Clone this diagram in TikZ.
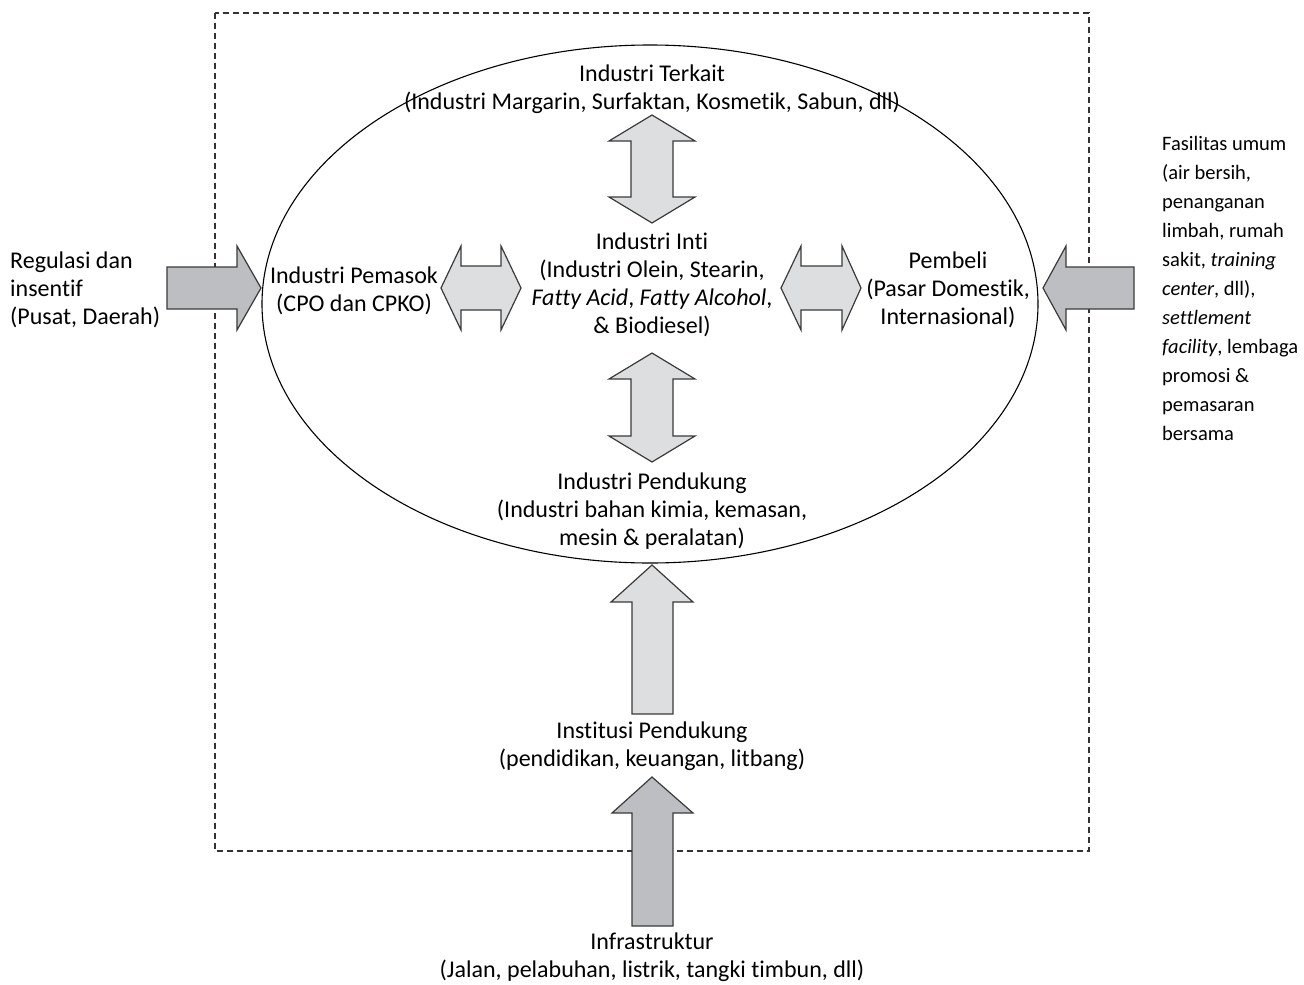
\documentclass[tikz,border=0pt]{standalone}
\usepackage{fontspec}
\setmainfont{Carlito}[Ligatures=CommonOff]
\definecolor{lightar}{HTML}{DDDEE0}
\definecolor{darkar}{HTML}{BDBEC1}
\definecolor{arline}{HTML}{3A3A3A}
\begin{document}
\begin{tikzpicture}[x=1pt,y=-1pt,
  txt/.style={inner sep=0pt,align=center,font=\fontsize{24}{28}\selectfont},
  ltxt/.style={inner sep=0pt,align=left,font=\fontsize{24}{28}\selectfont},
  rtxt/.style={inner sep=0pt,align=left,font=\fontsize{20.5}{29}\selectfont},
  lightarrow/.style={fill=lightar,draw=arline,line width=1.2pt,line join=miter},
  darkarrow/.style={fill=darkar,draw=arline,line width=1.2pt,line join=miter},
  frame/.style={draw=black!80,line width=1.2pt,dash pattern=on 6pt off 4pt}]
\useasboundingbox (0,0) rectangle (1304,985);
% dashed frame
\draw[frame] (215,13) rectangle (1089,851);
% ellipse
\draw[line width=1.1pt] (650,304) ellipse [x radius=388, y radius=259];
% vertical double arrows
\draw[lightarrow] (652,115) -- (695,141) -- (673,141) -- (673,197) -- (695,197) -- (652,223) -- (609,197) -- (631,197) -- (631,141) -- (609,141) -- cycle;
\draw[lightarrow] (652,353) -- (695,379) -- (673,379) -- (673,436) -- (695,436) -- (652,462) -- (609,436) -- (631,436) -- (631,379) -- (609,379) -- cycle;
% horizontal double arrows
\draw[lightarrow] (441,288) -- (461,246) -- (461,266) -- (501,266) -- (501,246) -- (521,288) -- (501,330) -- (501,310) -- (461,310) -- (461,330) -- cycle;
\draw[lightarrow] (781,288) -- (801,246) -- (801,266) -- (842,266) -- (842,246) -- (861,288) -- (842,330) -- (842,310) -- (801,310) -- (801,330) -- cycle;
% outside arrows
\draw[darkarrow] (167,267) -- (237,267) -- (237,246) -- (261,288) -- (237,330) -- (237,309) -- (167,309) -- cycle;
\draw[darkarrow] (1134,267) -- (1066,267) -- (1066,246) -- (1043,288) -- (1066,330) -- (1066,309) -- (1134,309) -- cycle;
\draw[lightarrow] (652,565) -- (693,602) -- (673,602) -- (673,714) -- (632,714) -- (632,602) -- (611,602) -- cycle;
\draw[darkarrow] (652,777) -- (693,813) -- (673,813) -- (673,926) -- (632,926) -- (632,813) -- (612,813) -- cycle;
% texts
\node[txt] (terkait) at (652,89) {Industri Terkait\\(Industri Margarin, Surfaktan, Kosmetik, Sabun, dll)};
\node[txt] (inti) at (652,285) {Industri Inti\\(Industri Olein, Stearin,\\\textit{Fatty Acid}, \textit{Fatty Alcohol},\\\& Biodiesel)};
\node[txt] (pemasok) at (354,291) {Industri Pemasok\\(CPO dan CPKO)};
\node[txt] (pembeli) at (948,290) {Pembeli\\(Pasar Domestik,\\Internasional)};
\node[txt] (pendukung) at (652,511) {Industri Pendukung\\(Industri bahan kimia, kemasan,\\mesin \& peralatan)};
\node[txt] (institusi) at (652,746) {Institusi Pendukung\\(pendidikan, keuangan, litbang)};
\node[txt] (infra) at (652,957) {Infrastruktur\\(Jalan, pelabuhan, listrik, tangki timbun, dll)};
\node[ltxt,anchor=west] (regulasi) at (10,290) {Regulasi dan\\insentif\\(Pusat, Daerah)};
\node[rtxt,anchor=west] (fasilitas) at (1162,288) {Fasilitas umum\\(air bersih,\\penanganan\\limbah, rumah\\sakit, \textit{training}\\\textit{center}, dll),\\\textit{settlement}\\\textit{facility}, lembaga\\promosi \&\\pemasaran\\bersama};
\end{tikzpicture}
\end{document}
